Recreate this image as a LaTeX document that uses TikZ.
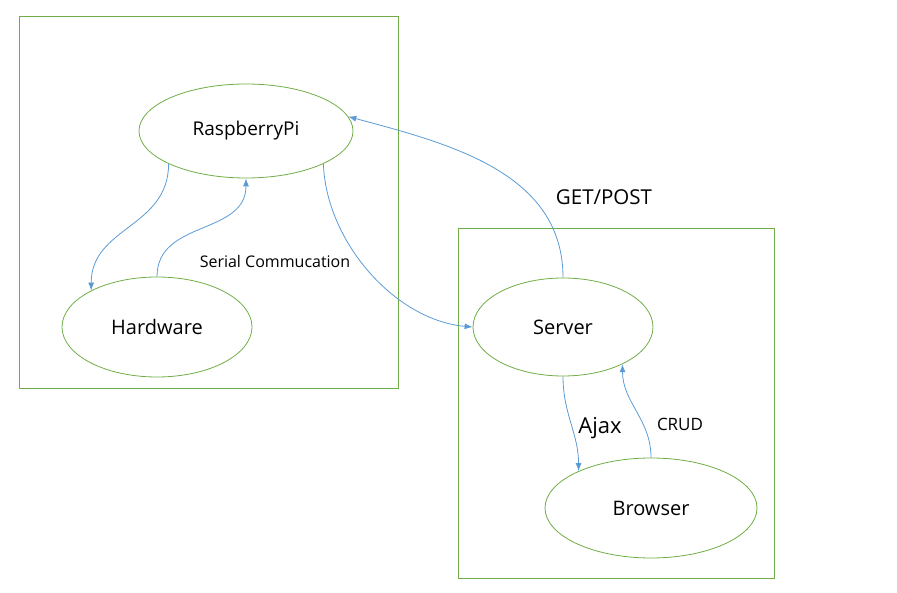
\documentclass[tikz,border=0pt]{standalone}
\usepackage{fontspec}
\setmainfont{Open Sans}
\usetikzlibrary{shapes.geometric, arrows.meta}
\definecolor{boxgreen}{RGB}{112,173,71}
\definecolor{linkblue}{RGB}{91,155,213}
\begin{document}
\begin{tikzpicture}[x=1pt, y=-1pt,
    unit/.style={draw=boxgreen, line width=0.8pt, ellipse, inner sep=0pt, font=\fontsize{20}{24}\selectfont},
    zone/.style={draw=boxgreen, line width=0.8pt},
    link/.style={draw=linkblue, line width=0.8pt, -{Latex[length=8pt, width=6pt]}},
    note/.style={font=\fontsize{16}{19}\selectfont}]
    \useasboundingbox (0,0) rectangle (897,593);

    % Device side and web side
    \draw[zone] (19,16) rectangle (398,388);
    \draw[zone] (458,228) rectangle (774,578);

    % Nodes
    \node[unit, font=\fontsize{19}{23}\selectfont, minimum width=214pt, minimum height=94pt] (rpi) at (246,131) {RaspberryPi};
    \node[unit, minimum width=190pt, minimum height=100pt] (hw) at (157,327) {Hardware};
    \node[unit, minimum width=180pt, minimum height=98pt] (srv) at (563,327) {Server};
    \node[unit, minimum width=212pt, minimum height=100pt] (brw) at (651,508) {Browser};

    % Links between the devices
    \draw[link] (rpi.203) to[out=-90, in=90, looseness=1.1] (hw.151);
    \draw[link] (hw.north) to[out=90, in=-90, looseness=1.1] (rpi.south);
    \draw[link] (rpi.337) to[out=-88, in=175, looseness=0.9] (srv.west);
    \draw[link] (srv.north) to[out=90, in=-15, looseness=1.0] (rpi.8);
    \draw[link] (srv.south) to[out=-90, in=90] (brw.153);
    \draw[link] (brw.north) to[out=90, in=-90] (srv.328);

    % Labels
    \node[note] (serial) at (275,262) {Serial Commucation};
    \node[font=\fontsize{20.5}{24}\selectfont] (getpost) at (604,197) {GET/POST};
    \node[font=\fontsize{22}{26}\selectfont] (ajax) at (600,428) {Ajax};
    \node[note, font=\fontsize{17}{20}\selectfont] (crud) at (680,424) {CRUD};
\end{tikzpicture}
\end{document}
